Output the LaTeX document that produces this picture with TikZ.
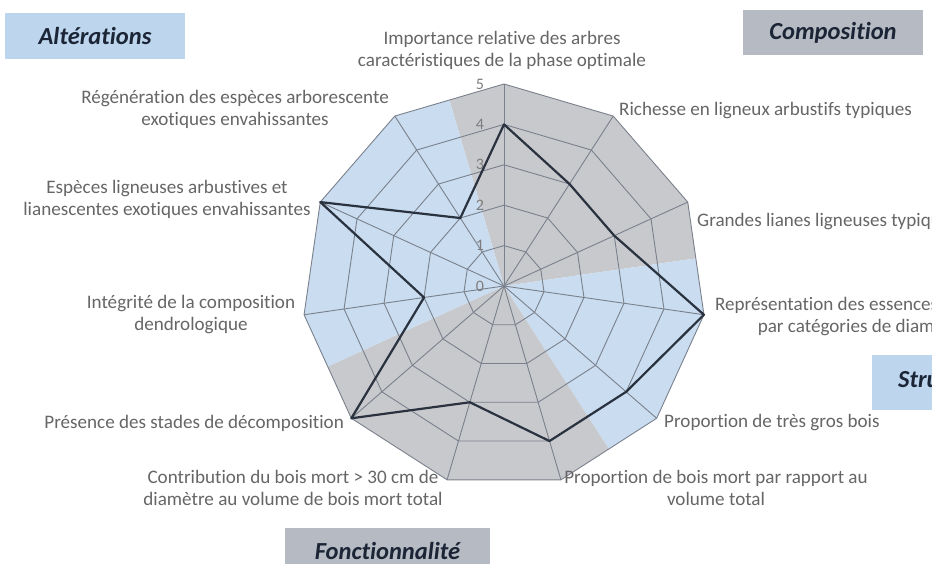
\documentclass[tikz,border=0pt]{standalone}
\usepackage{fontspec}
\setmainfont{Carlito}[Ligatures=NoCommon]
\definecolor{fillblue}{HTML}{C9DCF0}
\definecolor{fillgray}{HTML}{C8C9CD}
\definecolor{boxblue}{HTML}{BDD6EE}
\definecolor{boxgray}{HTML}{B6BAC2}
\definecolor{gridc}{HTML}{7A818C}
\definecolor{datac}{HTML}{2A3240}
\definecolor{labc}{HTML}{666666}
\definecolor{navy}{HTML}{1B2536}
\tikzset{
  gridline/.style={draw=gridc, line width=0.9pt},
  dataline/.style={draw=datac, line width=2.2pt, line join=round},
  axlabel/.style={text=labc, align=center, inner sep=0pt, font=\fontsize{19.1}{22}\selectfont},
  tick/.style={text=labc!85, inner sep=0pt, font=\fontsize{16}{18}\selectfont},
  catbox/.style={inner sep=0pt, text=navy, font=\fontsize{24.5}{28}\selectfont\bfseries\itshape}
}
\begin{document}
\begin{tikzpicture}[x=1pt,y=1pt]
\useasboundingbox (0,0) rectangle (932,564);
\clip (0,0) rectangle (932,564);
\fill[white] (0,0) rectangle (932,564);
\begin{scope}[shift={(504,278)}]
  % sector fills clipped to outer polygon
  \begin{scope}
    \clip (90:202) \foreach \k in {1,...,10}{ -- ({90-\k*360/11}:202) } -- cycle;
    \fill[fillgray] (0,0) -- (106.3636:320) arc[start angle=106.3636, end angle=8.1818, radius=320] -- cycle;
    \fill[fillblue] (0,0) -- (8.1818:320) arc[start angle=8.1818, end angle=-57.2727, radius=320] -- cycle;
    \fill[fillgray] (0,0) -- (-57.2727:320) arc[start angle=-57.2727, end angle=-155.4545, radius=320] -- cycle;
    \fill[fillblue] (0,0) -- (-155.4545:320) arc[start angle=-155.4545, end angle=-253.6364, radius=320] -- cycle;
  \end{scope}
  % grid
  \foreach \v in {1,...,5}{
    \draw[gridline] (90:\v*40.4) \foreach \k in {1,...,10}{ -- ({90-\k*360/11}:\v*40.4) } -- cycle;
  }
  \foreach \k in {0,...,10}{
    \draw[gridline] (0,0) -- ({90-\k*360/11}:202);
  }
  % tick labels
  \foreach \v in {0,...,5}{
    \node[tick] (t\v) at (-24,\v*40.4) {\v};
  }
  % data polygon
  \draw[dataline] (90:161.6) -- (57.2727:121.2) -- (24.5455:121.2) -- (-8.1818:202)
     -- (-40.9091:161.6) -- (-73.6364:161.6) -- (-106.3636:121.2) -- (-139.0909:202)
     -- (-171.8182:80.8) -- (155.4545:202) -- (122.7273:80.8) -- cycle;
\end{scope}
% axis labels
\node[axlabel] (l1) at (502,514) {Importance relative des arbres\\caractéristiques de la phase optimale};
\node[axlabel, anchor=west] (l2) at (619,453) {Richesse en ligneux arbustifs typiques};
\node[axlabel, anchor=west] (l3) at (697,342) {Grandes lianes ligneuses typiques};
\node[axlabel] (l4) at (862,247) {Représentation des essences typiques\\par catégories de diamètre};
\node[axlabel, anchor=west] (l5) at (664,141) {Proportion de très gros bois};
\node[axlabel] (l6) at (716,76) {Proportion de bois mort par rapport au\\volume total};
\node[axlabel] (l7) at (293,76) {Contribution du bois mort > 30 cm de\\diamètre au volume de bois mort total};
\node[axlabel, anchor=east] (l8) at (344,141) {Présence des stades de décomposition};
\node[axlabel] (l9) at (191,249) {Intégrité de la composition\\dendrologique};
\node[axlabel] (l10) at (167,365) {Espèces ligneuses arbustives et\\lianescentes exotiques envahissantes};
\node[axlabel] (l11) at (235,455) {Régénération des espèces arborescente\\exotiques envahissantes};
% category boxes
\node[catbox, fill=boxblue, minimum width=180pt, minimum height=46pt] (alt) at (95,528) {Altérations};
\node[catbox, fill=boxgray, minimum width=180pt, minimum height=45pt] (comp) at (833,531.5) {Composition};
\node[catbox, fill=boxgray, minimum width=205pt, minimum height=46pt] (fonc) at (387.5,13) {Fonctionnalité};
\fill[boxblue] (872,154) rectangle (1060,209);
\node[catbox, anchor=west] (struc) at (898,184) {Structure};
\end{tikzpicture}
\end{document}
